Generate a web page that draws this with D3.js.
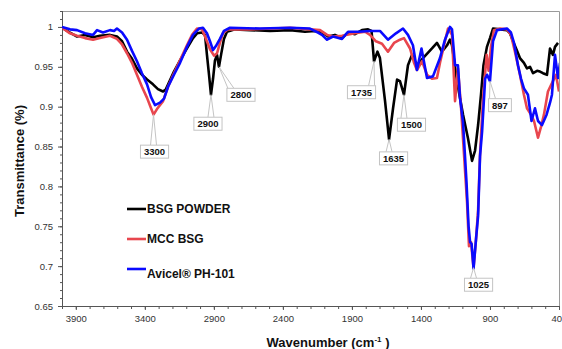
<!DOCTYPE html>
<html>
<head>
<meta charset="utf-8">
<script src="https://cdn.jsdelivr.net/npm/d3@7"></script>
<style>
body { margin: 0; background: #fff; }
text { font-family: Arial, "Liberation Sans", sans-serif; }
</style>
</head>
<body>
<script>
//spectra: wavenumber (cm-1) and transmittance
var bsgWn = [4000,3942,3891,3833,3775,3725,3652,3602,3565,3529,3493,3457,3421,3384,3341,3305,3268,3247,3218,3189,3145,3095,3051,3022,2986,2964,2950,2935,2921,2906,2892,2877,2863,2848,2827,2805,2747,2638,2493,2348,2240,2167,2117,2073,2023,1972,1928,1878,1827,1783,1758,1740,1715,1697,1660,1631,1602,1573,1552,1523,1494,1465,1429,1385,1320,1284,1248,1211,1190,1175,1139,1095,1059,1030,1008,986,965,947,922,900,878,827,777,755,733,704,683,654,632,610,588,559,538,516,487,465,444,429,407];
var bsgT  = [0.999,0.993,0.988,0.990,0.987,0.989,0.990,0.988,0.982,0.969,0.960,0.948,0.940,0.934,0.928,0.922,0.919,0.922,0.933,0.944,0.958,0.973,0.986,0.992,0.993,0.990,0.965,0.940,0.915,0.935,0.958,0.965,0.950,0.965,0.985,0.994,0.997,0.996,0.995,0.996,0.994,0.995,0.993,0.988,0.990,0.986,0.993,0.991,0.996,0.997,0.995,0.957,0.969,0.961,0.907,0.859,0.898,0.934,0.932,0.915,0.952,0.965,0.952,0.961,0.973,0.980,0.969,0.977,0.984,0.977,0.932,0.890,0.860,0.832,0.845,0.877,0.915,0.952,0.975,0.986,0.998,0.997,0.996,0.992,0.982,0.970,0.961,0.955,0.948,0.950,0.942,0.945,0.944,0.942,0.940,0.973,0.965,0.975,0.980];

var mccWn = [4000,3942,3891,3833,3775,3725,3652,3602,3565,3529,3493,3457,3421,3384,3355,3337,3312,3268,3232,3189,3145,3095,3058,3022,2986,2964,2928,2899,2877,2856,2834,2798,2638,2348,2204,2131,2080,2037,1972,1878,1805,1769,1726,1682,1639,1595,1552,1523,1479,1450,1429,1392,1356,1320,1284,1262,1226,1204,1175,1153,1132,1110,1088,1066,1052,1037,1019,1001,986,972,950,924,910,893,871,827,777,748,719,683,654,632,603,581,552,530,509,480,444,422,400];
var mccT  = [0.999,0.992,0.989,0.986,0.984,0.986,0.989,0.985,0.978,0.967,0.955,0.940,0.925,0.911,0.898,0.890,0.897,0.907,0.925,0.942,0.958,0.977,0.990,0.998,0.997,0.988,0.972,0.964,0.967,0.980,0.992,0.997,0.997,0.999,0.997,0.996,0.990,0.988,0.989,0.992,0.994,0.990,0.982,0.979,0.969,0.980,0.984,0.986,0.973,0.955,0.946,0.957,0.940,0.935,0.936,0.955,0.982,0.998,0.990,0.907,0.948,0.900,0.840,0.780,0.725,0.730,0.698,0.734,0.770,0.840,0.911,0.965,0.945,0.975,0.996,0.998,0.997,0.990,0.969,0.940,0.915,0.898,0.890,0.882,0.861,0.875,0.890,0.919,0.932,0.940,0.919];

var avWn = [4000,3942,3891,3833,3775,3746,3703,3652,3623,3602,3565,3529,3493,3457,3421,3384,3355,3326,3290,3261,3232,3189,3145,3095,3051,3008,2979,2950,2928,2906,2885,2856,2827,2783,2566,2348,2204,2146,2117,2080,2037,1972,1928,1856,1769,1697,1639,1581,1530,1494,1458,1429,1396,1356,1313,1262,1226,1190,1175,1153,1132,1117,1095,1070,1055,1044,1033,1019,1001,986,972,957,935,921,900,878,849,777,748,726,697,675,654,625,599,574,552,523,490,465,451,429,407,393];
var avT  = [1.000,0.997,0.996,0.992,0.990,0.996,0.993,0.996,0.995,0.998,0.993,0.984,0.970,0.957,0.942,0.928,0.912,0.902,0.905,0.910,0.925,0.940,0.955,0.975,0.990,0.998,0.999,0.992,0.982,0.971,0.976,0.985,0.995,0.999,0.998,0.999,0.998,0.993,0.990,0.984,0.988,0.985,0.994,0.994,0.995,0.995,0.984,0.992,0.998,0.990,0.977,0.946,0.973,0.936,0.938,0.961,0.984,1.000,0.997,0.952,0.952,0.911,0.880,0.805,0.750,0.730,0.728,0.697,0.734,0.763,0.838,0.869,0.935,0.940,0.932,0.982,0.996,0.998,0.993,0.980,0.952,0.935,0.923,0.915,0.882,0.898,0.882,0.877,0.890,0.905,0.915,0.965,0.936,0.955];

var seriesNames = ["BSG POWDER", "MCC BSG", "Avicel® PH-101"];

//peak labels
var peakLabels = ["3300", "2900", "2800", "1735", "1635", "1500", "1025", "897"];
var peakWn = [3337, 2921, 2863, 1740, 1631, 1523, 1019, 900];
var peakT = [0.890, 0.915, 0.950, 0.957, 0.859, 0.915, 0.698, 0.932];

//axis ticks
var xTicks = [3900, 3400, 2900, 2400, 1900, 1400, 900, 400];
var yTicks = [0.65, 0.7, 0.75, 0.8, 0.85, 0.9, 0.95, 1];

//layout
var width = 562, height = 349;
var colors = ["#000000", "#e8464e", "#0a0aff"];
var calloutOffset = [[1,37],[-3,29],[22,28],[-12.5,31],[4.5,19],[7.5,30],[5,17],[10,24]];

var svg = d3.select("body").append("svg")
    .attr("width", width)
    .attr("height", height);

var x = d3.scaleLinear().domain([4000, 400]).range([62, 559]);
var y = d3.scaleLinear().domain([0.65, 1.02]).range([306, 11]);

//clip for the plot area
svg.append("clipPath").attr("id", "plot")
    .append("rect")
    .attr("x", 62).attr("y", 11)
    .attr("width", 497).attr("height", 295);

//frame top and right
svg.append("path")
    .attr("d", "M62,11.5H559.5V306")
    .attr("fill", "none")
    .attr("stroke", "#9a9a9a")
    .attr("stroke-width", 1);

//x axis
var xAxis = svg.append("g").attr("transform", "translate(0,306)");
xAxis.append("g")
    .call(d3.axisBottom(x).tickValues(d3.range(400, 4001, 100)).tickSize(3).tickFormat(""))
    .call(function(g){ g.select(".domain").remove(); })
    .selectAll("line").attr("stroke", "#555");
xAxis.append("g")
    .call(d3.axisBottom(x).tickValues(xTicks).tickSize(4).tickPadding(5).tickFormat(d3.format("d")))
    .call(function(g){
        g.select(".domain").attr("stroke", "#555").attr("d", "M62,0.5H559");
        g.selectAll("line").attr("stroke", "#555");
        g.selectAll("text").attr("font-size", "9.5px").attr("fill", "#333")
            .attr("font-family", "Arial, 'Liberation Sans', sans-serif");
    });

//y axis
var yAxis = svg.append("g").attr("transform", "translate(62,0)");
yAxis.append("g")
    .call(d3.axisLeft(y).tickValues(d3.range(65, 103, 1).map(function(d){ return d / 100; })).tickSize(2).tickFormat(""))
    .call(function(g){ g.select(".domain").remove(); })
    .selectAll("line").attr("stroke", "#555");
yAxis.append("g")
    .call(d3.axisLeft(y).tickValues(yTicks).tickSize(4).tickPadding(5).tickFormat(function(d){ return String(+d.toFixed(2)); }))
    .call(function(g){
        g.select(".domain").attr("stroke", "#555").attr("d", "M0.5,11V306");
        g.selectAll("line").attr("stroke", "#555");
        g.selectAll("text").attr("font-size", "9.5px").attr("fill", "#333")
            .attr("font-family", "Arial, 'Liberation Sans', sans-serif");
    });

//spectra lines
var line = d3.line()
    .x(function(d){ return x(d[0]); })
    .y(function(d){ return y(d[1]); });

var spectra = [d3.zip(bsgWn, bsgT), d3.zip(mccWn, mccT), d3.zip(avWn, avT)];

svg.append("g").attr("clip-path", "url(#plot)")
    .selectAll("path")
    .data(spectra)
    .enter()
    .append("path")
    .attr("d", line)
    .attr("fill", "none")
    .attr("stroke", function(d, i){ return colors[i]; })
    .attr("stroke-width", 2.6)
    .attr("stroke-linejoin", "round");

//peak callouts
var callouts = svg.append("g");
peakLabels.forEach(function(label, i){
    var px = x(peakWn[i]), py = y(peakT[i]);
    var cx = px + calloutOffset[i][0], cy = py + calloutOffset[i][1];
    var g = callouts.append("g");
    var wedge = g.append("path");
    var box = g.append("rect");
    var t = g.append("text")
        .attr("x", cx).attr("y", cy + 3.5)
        .attr("text-anchor", "middle")
        .attr("font-size", "9.5px")
        .attr("font-weight", "bold")
        .attr("fill", "#111")
        .text(label);
    var w = t.node().getComputedTextLength() + 7, h = 13;
    box.attr("x", cx - w / 2).attr("y", cy - h / 2)
        .attr("width", w).attr("height", h)
        .attr("fill", "#fff")
        .attr("stroke", "#c4c4c4");
    //leader wedge from peak to the box top edge
    var top = cy - h / 2;
    var bx = Math.max(cx - w / 2 + 4, Math.min(cx + w / 2 - 4, px));
    wedge.attr("d", "M" + (bx - 3) + "," + top + "L" + px + "," + py + "L" + (bx + 3) + "," + top)
        .attr("fill", "#fff")
        .attr("stroke", "#c4c4c4");
});

//legend
var legend = svg.append("g");
var legendY = [209, 239, 269];
seriesNames.forEach(function(name, i){
    legend.append("line")
        .attr("x1", 127).attr("x2", 146)
        .attr("y1", legendY[i]).attr("y2", legendY[i])
        .attr("stroke", colors[i])
        .attr("stroke-width", 2.6);
    legend.append("text")
        .attr("x", 147)
        .attr("y", legendY[i] + (i == 2 ? 9 : 4))
        .attr("font-size", "12px")
        .attr("font-weight", "bold")
        .attr("fill", "#111")
        .text(name);
});

//axis titles
svg.append("text")
    .attr("transform", "translate(24,161) rotate(-90)")
    .attr("text-anchor", "middle")
    .attr("font-size", "13px")
    .attr("font-weight", "bold")
    .attr("fill", "#111")
    .text("Transmittance (%)");

var xt = svg.append("text")
    .attr("x", 328).attr("y", 347)
    .attr("text-anchor", "middle")
    .attr("font-size", "13px")
    .attr("font-weight", "bold")
    .attr("fill", "#111");
xt.append("tspan").text("Wavenumber (cm");
xt.append("tspan").attr("font-size", "8px").attr("dy", -5).text("-1");
xt.append("tspan").attr("dy", 5).text(" )");
</script>
</body>
</html>
